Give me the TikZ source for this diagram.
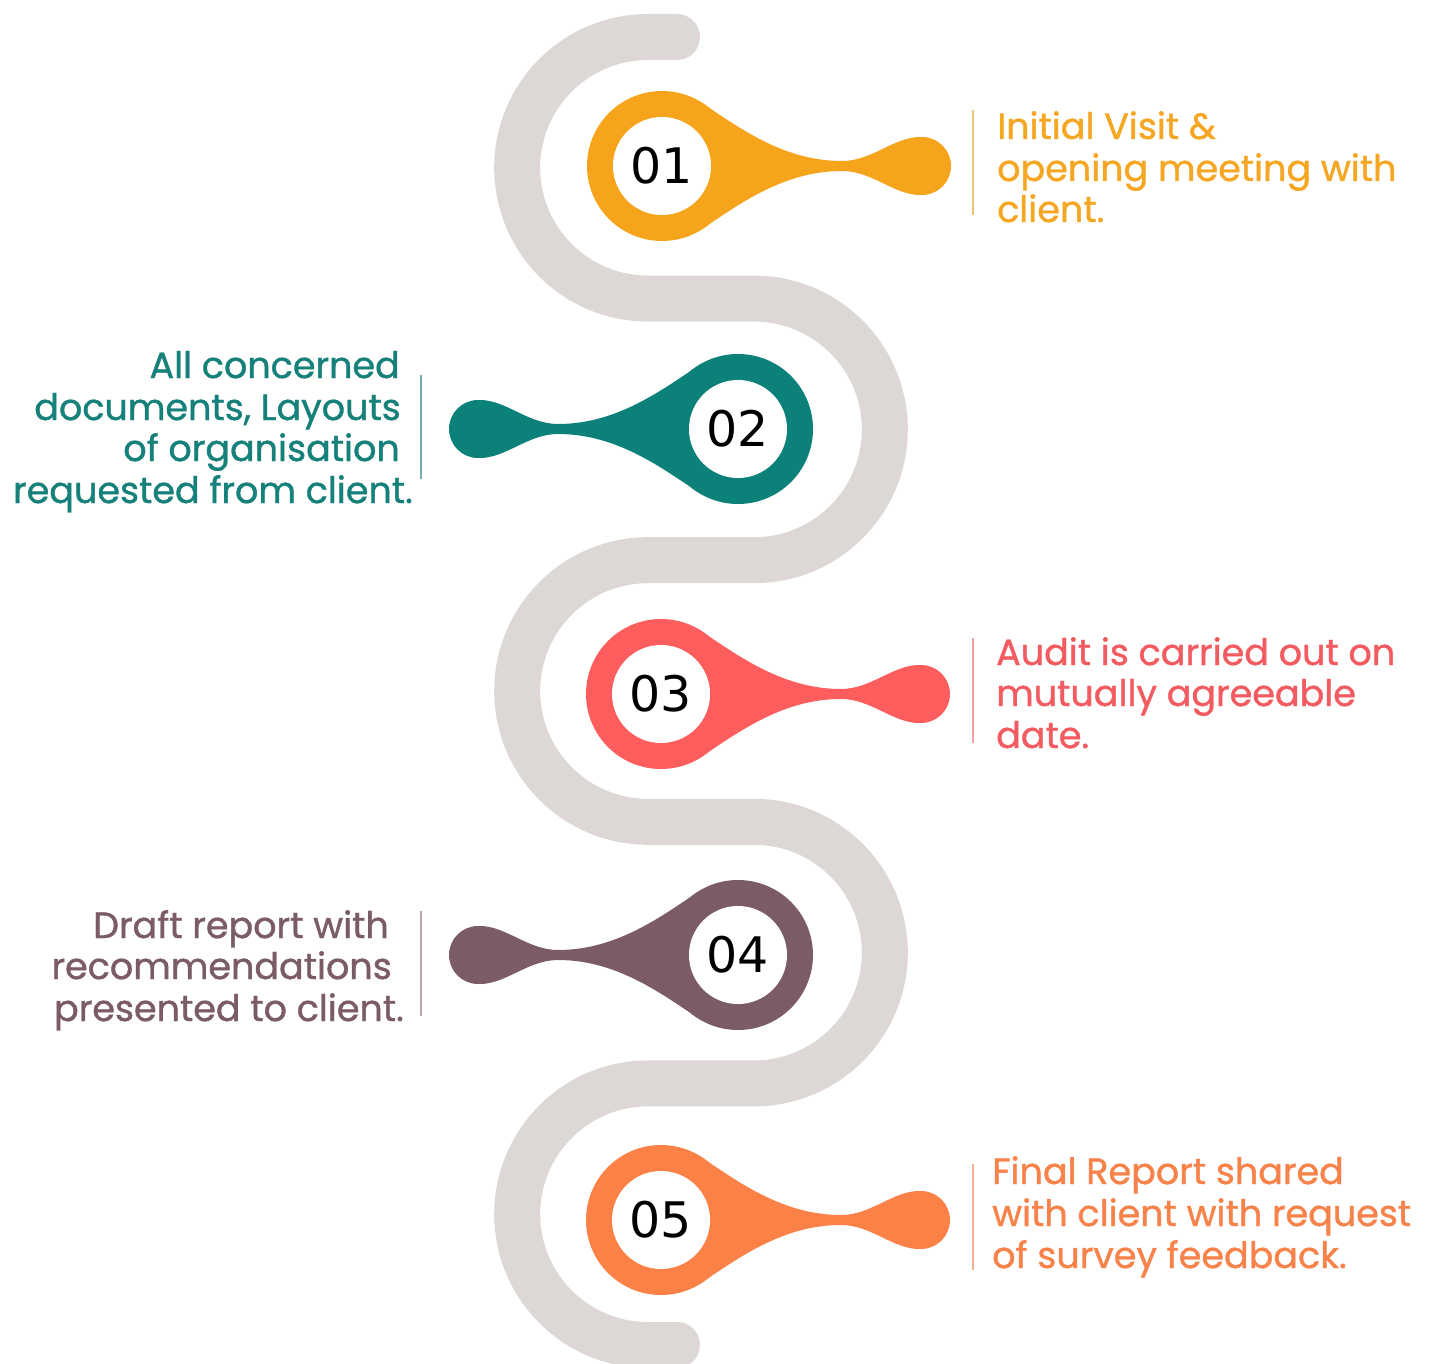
\documentclass[tikz,border=0pt]{standalone}
\usepackage{fontspec}
\setmainfont{Poppins}
\newfontfamily\labfont[FakeBold=1.1]{Poppins}
\newfontfamily\numfont{DejaVu Sans}
\definecolor{pathgray}{HTML}{DDD8D6}
\definecolor{cA}{HTML}{F7A41D}
\definecolor{cB}{HTML}{0B8179}
\definecolor{cC}{HTML}{FD5D5D}
\definecolor{cD}{HTML}{7C5B69}
\definecolor{cE}{HTML}{FC8146}
\definecolor{tA}{HTML}{F5A623}
\definecolor{tB}{HTML}{16807A}
\definecolor{tC}{HTML}{F25C61}
\definecolor{tD}{HTML}{7B5B68}
\definecolor{tE}{HTML}{F7834A}
\definecolor{rA}{HTML}{EDC57A}
\definecolor{rB}{HTML}{6FAFAA}
\definecolor{rC}{HTML}{F0A0A3}
\definecolor{rD}{HTML}{B8A5AD}
\definecolor{rE}{HTML}{F4B08F}
\newcommand{\drawpin}[6]{%
  \begin{scope}[shift={(#2,#3)}, xscale=#4]
    \fill[#5] (0,0) circle (75);
    \fill[#5] (260,0) circle (29);
    \fill[#5] (37,65) .. controls (75,40) and (120,5) .. (180,5)
      .. controls (210,5) and (232,29) .. (258,29) -- (258,-29)
      .. controls (232,-29) and (210,-5) .. (180,-5)
      .. controls (120,-5) and (75,-40) .. (37,-65) -- cycle;
    \fill[white] (0,0) circle (49);
  \end{scope}
  \node[num] (#1) at (#2,#3) {#6};
}
\begin{document}
\begin{tikzpicture}[x=1pt,y=1pt,
  num/.style={font=\numfont\fontsize{49}{50}\selectfont, text=black, inner sep=0pt},
  labtxt/.style={font=\labfont\fontsize{36.5}{42}\selectfont, inner sep=0pt},
  rule/.style={line width=2pt}]
\useasboundingbox (0,0) rectangle (1440,-1364);
% winding path
\coordinate (s0) at (677,-37);
\coordinate (s1) at (648,-37);
\draw[pathgray, line width=46pt, line cap=round]
  (s0) -- (s1) arc[start angle=90, end angle=270, radius=130.8]
  -- (754,-298.6) arc[start angle=90, end angle=-90, radius=130.8]
  -- (648,-560.2) arc[start angle=90, end angle=270, radius=130.8]
  -- (754,-821.8) arc[start angle=90, end angle=-90, radius=130.8]
  -- (648,-1083.4) arc[start angle=90, end angle=270, radius=130.8]
  -- (677,-1345);
% pins
\drawpin{p1}{662}{-166}{1}{cA}{01}
\drawpin{p2}{738}{-429}{-1}{cB}{02}
\drawpin{p3}{661}{-694}{1}{cC}{03}
\drawpin{p4}{738}{-955}{-1}{cD}{04}
\drawpin{p5}{661}{-1220}{1}{cE}{05}
% text 1
\node[labtxt, text=tA, anchor=base west] (a1) at (997,-139) {Initial Visit \&};
\node[labtxt, text=tA, anchor=base west] (a2) at (997,-181) {opening meeting with};
\node[labtxt, text=tA, anchor=base west] (a3) at (997,-222) {client.};
\coordinate (ra1) at (973,-110); \coordinate (ra2) at (973,-215);
\draw[rule, rA] (ra1) -- (ra2);
% text 2
\node[labtxt, text=tB, anchor=base east] (b1) at (400,-378) {All concerned};
\node[labtxt, text=tB, anchor=base east] (b2) at (401,-420) {documents, Layouts};
\node[labtxt, text=tB, anchor=base east] (b3) at (400,-461) {of organisation};
\node[labtxt, text=tB, anchor=base east] (b4) at (413,-503) {requested from client.};
\coordinate (rb1) at (421,-375); \coordinate (rb2) at (421,-479);
\draw[rule, rB] (rb1) -- (rb2);
% text 3
\node[labtxt, text=tC, anchor=base west] (c1) at (996,-665) {Audit is carried out on};
\node[labtxt, text=tC, anchor=base west] (c2) at (996,-706) {mutually agreeable};
\node[labtxt, text=tC, anchor=base west] (c3) at (996,-748) {date.};
\coordinate (rc1) at (973,-638); \coordinate (rc2) at (973,-743);
\draw[rule, rC] (rc1) -- (rc2);
% text 4
\node[labtxt, text=tD, anchor=base east] (d1) at (389,-938) {Draft report with};
\node[labtxt, text=tD, anchor=base east] (d2) at (392,-979) {recommendations};
\node[labtxt, text=tD, anchor=base east] (d3) at (404,-1021) {presented to client.};
\coordinate (rd1) at (421,-911); \coordinate (rd2) at (421,-1016);
\draw[rule, rD] (rd1) -- (rd2);
% text 5
\node[labtxt, text=tE, anchor=base west] (e1) at (992,-1184) {Final Report shared};
\node[labtxt, text=tE, anchor=base west] (e2) at (992,-1226) {with client with request};
\node[labtxt, text=tE, anchor=base west] (e3) at (992,-1268) {of survey feedback.};
\coordinate (re1) at (973,-1164); \coordinate (re2) at (973,-1270);
\draw[rule, rE] (re1) -- (re2);
\end{tikzpicture}
\end{document}
